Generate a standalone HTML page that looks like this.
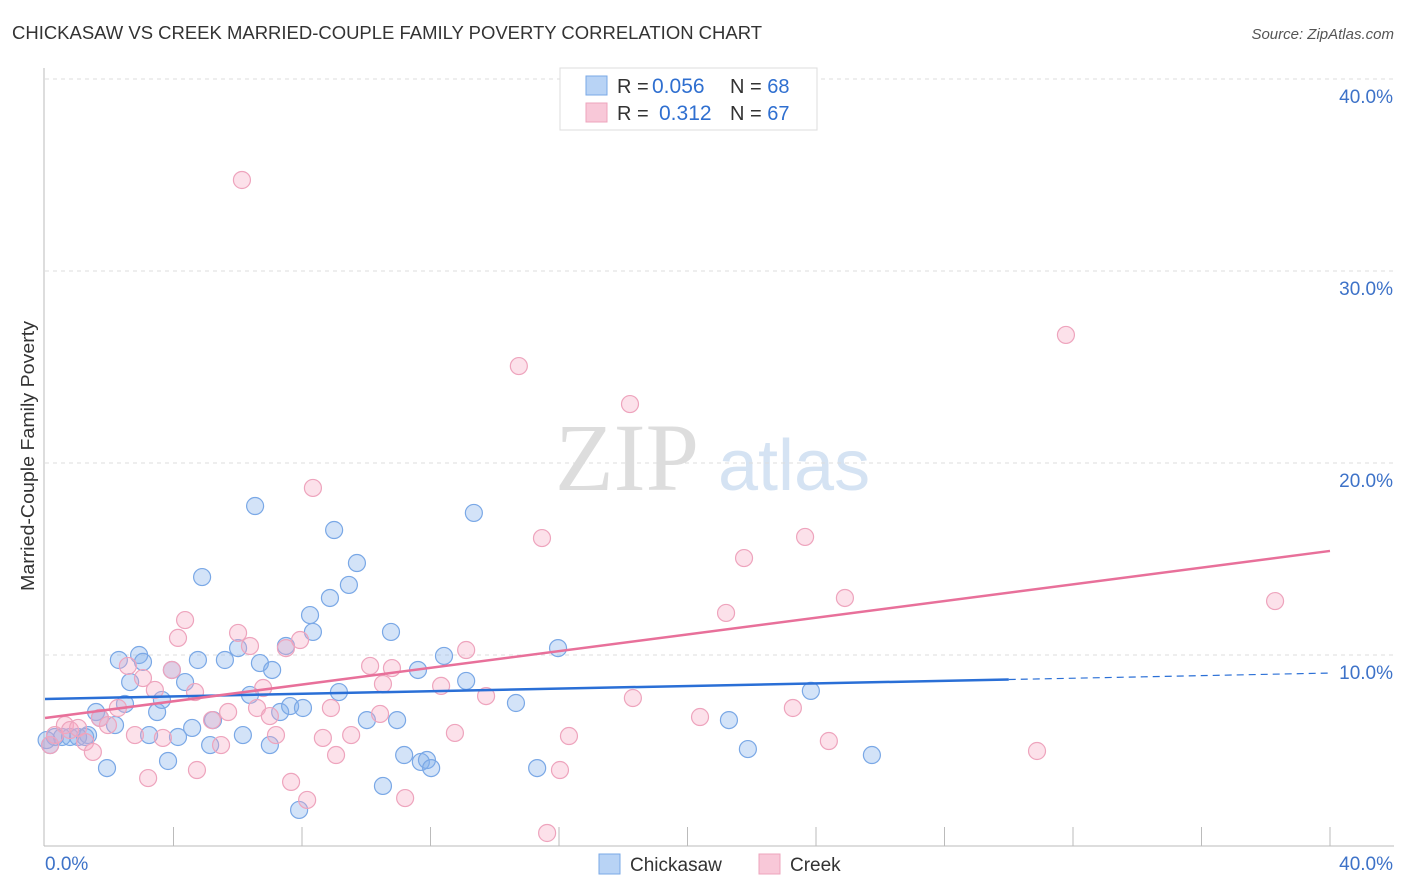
<!DOCTYPE html>
<html><head><meta charset="utf-8"><style>
body{margin:0;background:#fff;font-family:"Liberation Sans",sans-serif}
svg{display:block}
</style></head><body>
<svg id="chart" width="1406" height="892" xmlns="http://www.w3.org/2000/svg">
<text x="12" y="39" font-size="18" fill="#333" textLength="750" lengthAdjust="spacingAndGlyphs">CHICKASAW VS CREEK MARRIED-COUPLE FAMILY POVERTY CORRELATION CHART</text>
<text x="1394" y="39" font-size="15" fill="#555" font-style="italic" text-anchor="end">Source: ZipAtlas.com</text>
<text x="555" y="490" font-size="96" fill="#ddd" font-family="Liberation Serif">ZIP</text>
<text x="718" y="490" font-size="72" fill="#d5e3f3">atlas</text>
<g id="grid"></g>
<g id="axes"></g>
<g id="pts"></g>
<g id="lines"></g>
<text transform="translate(34,456) rotate(-90)" font-size="18" fill="#333" text-anchor="middle" textLength="270" lengthAdjust="spacingAndGlyphs">Married-Couple Family Poverty</text>
<g>
<rect x="560" y="68" width="257" height="62" fill="#fff" stroke="#ddd"/>
<rect x="586" y="76" width="21" height="19" fill="#b8d3f5" stroke="#7aa8e6"/>
<rect x="586" y="103" width="21" height="19" fill="#f8c8d8" stroke="#eea4bd"/>
<text x="617" y="93" font-size="20" fill="#333">R = </text><text x="652" y="93" font-size="21" fill="#2f6fd0">0.056</text>
<text x="730" y="93" font-size="20" fill="#333">N = <tspan fill="#2f6fd0">68</tspan></text>
<text x="617" y="120" font-size="20" fill="#333">R = </text><text x="659" y="120" font-size="21" fill="#2f6fd0">0.312</text>
<text x="730" y="120" font-size="20" fill="#333">N = <tspan fill="#2f6fd0">67</tspan></text>
</g>
<g>
<rect x="599" y="854" width="21" height="20" fill="#b8d3f5" stroke="#7aa8e6"/>
<text x="630" y="871" font-size="19" fill="#333">Chickasaw</text>
<rect x="759" y="854" width="21" height="20" fill="#f8c8d8" stroke="#eea4bd"/>
<text x="790" y="871" font-size="19" fill="#333">Creek</text>
</g>
</svg>
<script>
const blueX=[0.16,0.31,0.53,0.78,1.03,1.34,1.59,1.71,1.93,2.18,2.30,2.49,2.65,2.93,3.05,3.24,3.49,3.64,3.83,3.95,4.14,4.36,4.58,4.76,4.89,5.14,5.23,5.60,6.01,6.16,6.38,6.54,6.69,7.00,7.07,7.32,7.50,7.63,7.91,8.03,8.25,8.34,8.87,9.00,9.15,9.46,9.71,10.02,10.52,10.77,10.96,11.18,11.61,11.70,11.89,12.02,12.42,13.11,13.35,14.66,15.32,15.97,21.29,21.88,23.84,25.74,1.25,0.05];
const blueY=[5.31,5.73,5.73,5.73,5.73,5.83,7.03,6.72,4.11,6.35,9.74,7.45,8.59,10.0,9.64,5.83,7.03,7.66,4.48,9.22,5.73,8.59,6.20,9.74,14.06,5.31,6.61,9.74,10.36,5.83,7.92,17.76,9.58,5.31,9.22,7.03,10.47,7.34,1.93,7.24,12.08,11.20,12.97,16.51,8.07,13.65,14.79,6.61,3.18,11.20,6.61,4.79,9.22,4.43,4.53,4.11,9.95,8.65,17.40,7.50,4.11,10.36,6.61,5.10,8.13,4.79,5.73,5.57];
const pinkX=[6.13,0.16,0.31,0.62,0.78,1.03,1.25,1.49,1.71,1.96,2.27,2.58,2.80,3.05,3.21,3.42,3.67,3.95,4.14,4.36,4.67,4.73,5.20,5.48,5.70,6.01,6.38,6.60,6.79,7.00,7.19,7.50,7.66,7.94,8.16,8.34,8.65,8.90,9.06,9.53,10.12,10.43,10.52,10.80,11.21,12.33,12.76,13.11,13.73,14.75,15.47,15.63,16.03,16.31,18.21,18.30,20.39,21.20,21.76,23.28,23.66,24.40,24.90,30.88,31.78,38.29];
const pinkY=[34.74,5.31,5.83,6.35,6.09,6.20,5.47,4.95,6.72,6.35,7.24,9.43,5.83,8.80,3.59,8.18,5.68,9.22,10.89,11.82,8.07,4.01,6.61,5.31,7.03,11.15,10.47,7.24,8.28,6.82,5.83,10.36,3.39,10.78,2.45,18.70,5.68,7.24,4.79,5.83,9.43,6.93,8.49,9.32,2.55,8.39,5.94,10.26,7.86,25.05,16.09,0.73,4.01,5.78,23.07,7.76,6.77,12.19,15.05,7.24,16.15,5.52,12.97,5.00,26.67,12.81];
const trendStart=[7.71,6.72];
const trendEnd=[9.06,15.42];
const yTicks=[10,20,30,40];
const yTickLabels=["10.0%","20.0%","30.0%","40.0%"];
const xTicks=[4,8,12,16,20,24,28,32,36,40];
const NS="http://www.w3.org/2000/svg";
const sx=v=>45+v*32.125, sy=v=>847-v*19.2;
function mk(tag,attrs,parent){const e=document.createElementNS(NS,tag);for(const k in attrs)e.setAttribute(k,attrs[k]);parent.appendChild(e);return e;}
const grid=document.getElementById('grid'),axes=document.getElementById('axes'),pts=document.getElementById('pts'),lines=document.getElementById('lines');
yTicks.forEach((t,i)=>{
 const l=mk('line',{x1:45,x2:1394,y1:sy(t),y2:sy(t),stroke:'#ddd','stroke-dasharray':'4,4'},grid);
 
 
 const tx=mk('text',{x:1393,y:sy(t)+24,'font-size':19,fill:'#3d72c8','text-anchor':'end'},axes);
 tx.textContent=yTickLabels[i];
 
 
});
const ax=mk('line',{x1:44,x2:1394,y1:846,y2:846,stroke:'#bbb'},axes);


const ay=mk('line',{x1:44,x2:44,y1:68,y2:846,stroke:'#bbb'},axes);


xTicks.forEach(t=>{
 const l=mk('line',{x1:sx(t),x2:sx(t),y1:827,y2:846,stroke:'#bbb'},axes);
 
 
});
const x0=mk('text',{x:45,y:870,'font-size':19,fill:'#3d72c8'},axes);x0.textContent='0.0%';


const x1=mk('text',{x:1393,y:870,'font-size':19,fill:'#3d72c8','text-anchor':'end'},axes);x1.textContent='40.0%';


function drawPts(X,Y,fill,stroke,name){X.forEach((x,i)=>{
 const c=mk('circle',{cx:sx(x),cy:sy(Y[i]),r:8.5,fill:fill,stroke:stroke,'stroke-width':1.2},pts);
 
 
});}
drawPts(blueX,blueY,'rgba(130,175,235,0.35)','#7aa8e6','chickasaw-point');
drawPts(pinkX,pinkY,'rgba(245,170,195,0.35)','#eea4bd','creek-point');
const bAt=x=>trendStart[0]+(trendEnd[0]-trendStart[0])*x/40;
const b1=mk('line',{x1:sx(0),y1:sy(trendStart[0]),x2:sx(30),y2:sy(bAt(30)),stroke:'#2a6fd6','stroke-width':2.5},lines);


const b2=mk('line',{x1:sx(30),y1:sy(bAt(30)),x2:sx(40),y2:sy(trendEnd[0]),stroke:'#2a6fd6','stroke-width':1.2,'stroke-dasharray':'7,5'},lines);


const p1=mk('line',{x1:sx(0),y1:sy(trendStart[1]),x2:sx(40),y2:sy(trendEnd[1]),stroke:'#e8709a','stroke-width':2.5},lines);


</script>
</body></html>
